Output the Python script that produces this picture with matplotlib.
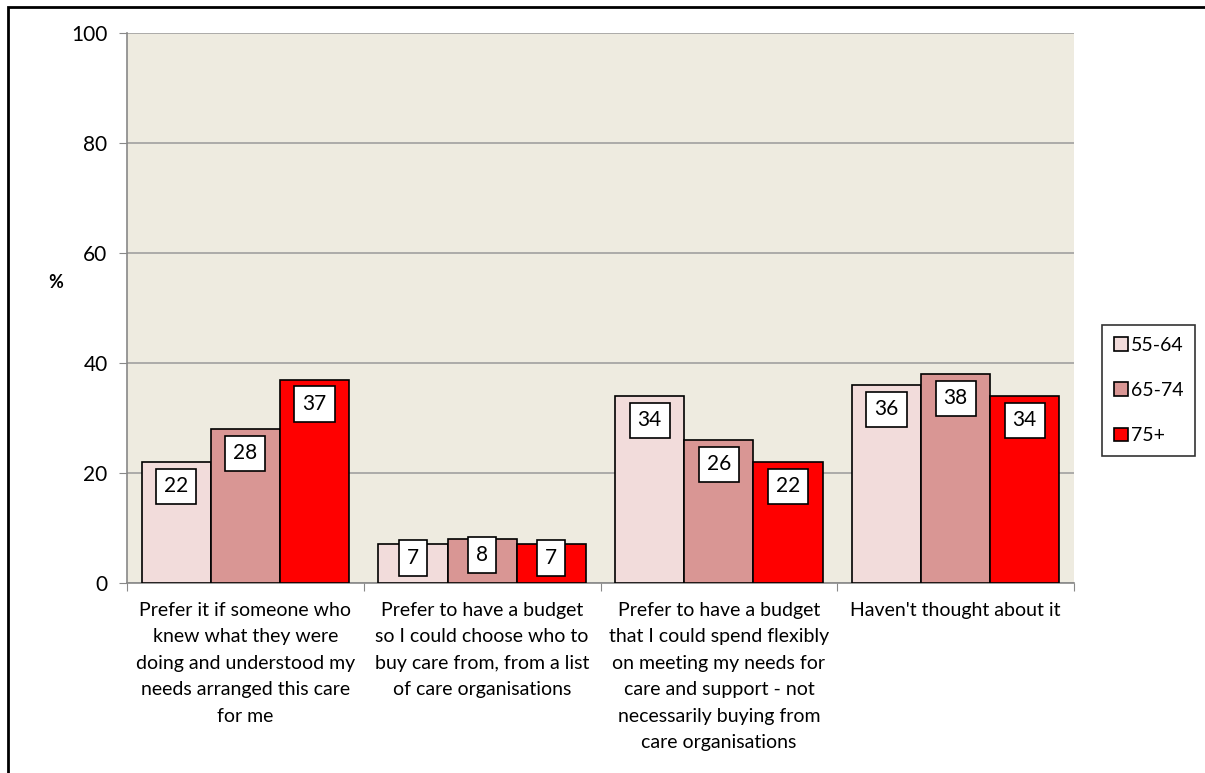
import numpy as np
import matplotlib
matplotlib.use('Agg')
import matplotlib.pyplot as plt
from matplotlib.patches import Rectangle

# data
categories = [
    "Prefer it if someone who\nknew what they were\ndoing and understood my\nneeds arranged this care\nfor me",
    "Prefer to have a budget\nso I could choose who to\nbuy care from, from a list\nof care organisations",
    "Prefer to have a budget\nthat I could spend flexibly\non meeting my needs for\ncare and support - not\nnecessarily buying from\ncare organisations",
    "Haven't thought about it",
]
age_groups = ["55-64", "65-74", "75+"]
vals_55_64 = [22, 7, 34, 36]
vals_65_74 = [28, 8, 26, 38]
vals_75 = [37, 7, 22, 34]
yticks = [0, 20, 40, 60, 80, 100]

colors = ['#F2DCDB', '#D99694', '#FF0000']

plt.rcParams['font.family'] = ['Lato', 'DejaVu Sans']

fig = plt.figure(figsize=(12.05, 7.73), dpi=100)
ax = fig.add_axes([0.1054, 0.2458, 0.7859, 0.7115])
ax.set_facecolor('#EEEBE0')

x = np.arange(len(categories))
w = 0.292
series = [vals_55_64, vals_65_74, vals_75]
for i, vals in enumerate(series):
    pos = x + (i - 1) * w
    ax.bar(pos, vals, width=w, color=colors[i], edgecolor='black', linewidth=1.2,
           label=age_groups[i], zorder=3)
    for px, v in zip(pos, vals):
        yl = v - min(4.45, v / 2 - 1.1)
        ax.text(px, yl, str(v), ha='center', va='center', fontsize=15, zorder=4,
                bbox=dict(boxstyle='square,pad=0.38', facecolor='white',
                          edgecolor='black', linewidth=1.2))

ax.set_xlim(-0.5, len(categories) - 0.5)
ax.set_ylim(0, 100)
ax.set_yticks(yticks)
ax.tick_params(axis='y', labelsize=15, length=6, color='#888888', pad=8)
ax.yaxis.grid(True, color='#A0A0A0', linewidth=1.2, zorder=0)
ax.set_axisbelow(True)

# category labels between boundary ticks
ax.set_xticks(np.arange(len(categories) + 1) - 0.5)
ax.set_xticklabels([])
ax.tick_params(axis='x', length=6, color='#888888')
for xi, lab in zip(x, categories):
    ax.text(xi, -3.4, lab, ha='center', va='top', fontsize=14, linespacing=1.68)

for s in ['top', 'right']:
    ax.spines[s].set_visible(False)
for s in ['left', 'bottom']:
    ax.spines[s].set_color('#888888')
    ax.spines[s].set_linewidth(1.2)

fig.text(0.046, 0.635, '%', fontsize=13, fontweight='bold', ha='center', va='center')

leg = ax.legend(loc='center left', bbox_to_anchor=(1.03, 0.35), frameon=True,
                fontsize=14, handlelength=0.7, handleheight=0.7, handletextpad=0.15,
                labelspacing=1.45, borderpad=0.6, borderaxespad=0, fancybox=False)
leg.get_frame().set_edgecolor('black')
leg.get_frame().set_linewidth(1.2)

# outer chart border
fig.patches.append(Rectangle((8 / 1205, -0.05), 1.05, 1 - 7 / 773 + 0.05,
                             transform=fig.transFigure, fill=False,
                             edgecolor='black', linewidth=2))

fig.savefig('out.png', dpi=100)
